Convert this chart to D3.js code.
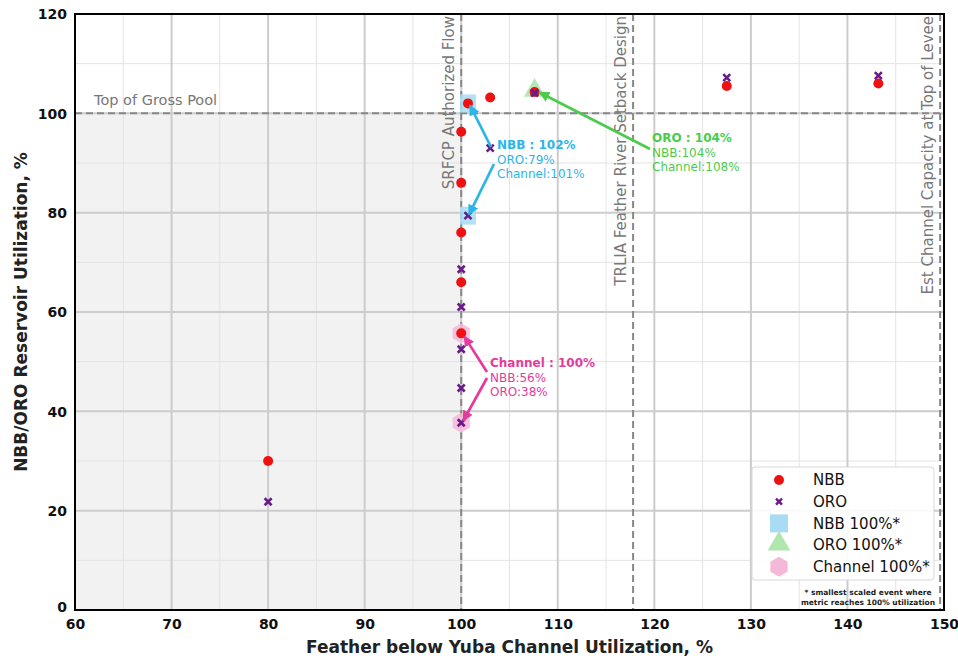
<!DOCTYPE html>
<html><head><meta charset="utf-8">
<script src="https://cdn.jsdelivr.net/npm/d3@7"></script>
<style>body{margin:0;background:#fff;} svg{display:block;font-family:"DejaVu Sans",sans-serif;}</style>
</head><body>
<svg id="c" width="958" height="660"></svg>
<script>
// ---- data ----
const nbbX = [80, 100, 100, 100, 100, 100, 100.7, 103, 107.6, 127.5, 143.2];
const nbbY = [30, 55.7, 66, 76, 86, 96.3, 102, 103.2, 104.3, 105.5, 106.0];
const oroX = [80, 100, 100, 100, 100, 100, 100.7, 103, 107.6, 127.5, 143.2];
const oroY = [21.8, 37.7, 44.7, 52.5, 61, 68.6, 79.4, 93, 104.1, 107.2, 107.6];
const nbbHiX = [100.7, 100.7];
const nbbHiY = [102, 79.4];
const oroHiX = [107.6];
const oroHiY = [104.2];
const chanHiX = [100, 100];
const chanHiY = [55.7, 37.7];
const xTicks = [60, 70, 80, 90, 100, 110, 120, 130, 140, 150];
const yTicks = [0, 20, 40, 60, 80, 100, 120];
const vLineX = [100, 117.8, 149.6];
const vLineLabels = ["SRFCP Authorized Flow", "TRLIA Feather River Setback Design", "Est Channel Capacity at Top of Levee"];
const hLineY = 100;
const hLineLabel = "Top of Gross Pool";
const legendLabels = ["NBB", "ORO", "NBB 100%*", "ORO 100%*", "Channel 100%*"];
const noteLines = ["* smallest scaled event where", "metric reaches 100% utilization"];
const annNBB = ["NBB : 102%", "ORO:79%", "Channel:101%"];
const annORO = ["ORO : 104%", "NBB:104%", "Channel:108%"];
const annChan = ["Channel : 100%", "NBB:56%", "ORO:38%"];

// ---- layout ----
const svg = d3.select("#c");
const L = 75, R = 944, T = 14, B = 610;
const x = d3.scaleLinear().domain([60, 150]).range([L, R]);
const y = d3.scaleLinear().domain([0, 120]).range([B, T]);

const defs = svg.append("defs");
defs.append("clipPath").attr("id", "clip").append("rect")
  .attr("x", L).attr("y", T).attr("width", R - L).attr("height", B - T);

// shaded region
svg.append("rect").attr("x", x(60)).attr("y", y(100))
  .attr("width", x(100) - x(60)).attr("height", y(0) - y(100)).attr("fill", "#f2f2f2");

// grid
const g = svg.append("g").attr("clip-path", "url(#clip)");
d3.range(65, 150, 10).forEach(v => g.append("line").attr("x1", x(v)).attr("x2", x(v)).attr("y1", T).attr("y2", B).attr("stroke", "#e3e3e3").attr("stroke-width", 1));
d3.range(10, 120, 20).forEach(v => g.append("line").attr("y1", y(v)).attr("y2", y(v)).attr("x1", L).attr("x2", R).attr("stroke", "#e3e3e3").attr("stroke-width", 1));
xTicks.slice(1, -1).forEach(v => g.append("line").attr("x1", x(v)).attr("x2", x(v)).attr("y1", T).attr("y2", B).attr("stroke", "#cccccc").attr("stroke-width", 2));
yTicks.slice(1, -1).forEach(v => g.append("line").attr("y1", y(v)).attr("y2", y(v)).attr("x1", L).attr("x2", R).attr("stroke", "#cccccc").attr("stroke-width", 2));

// reference lines
g.append("line").attr("x1", L).attr("x2", R).attr("y1", y(hLineY)).attr("y2", y(hLineY))
  .attr("stroke", "#888").attr("stroke-width", 2).attr("stroke-dasharray", "7,4");
vLineX.forEach(v => g.append("line").attr("x1", x(v)).attr("x2", x(v)).attr("y1", T).attr("y2", B)
  .attr("stroke", "#888").attr("stroke-width", 2).attr("stroke-dasharray", "7,4"));
svg.append("text").attr("x", x(60) + 19).attr("y", y(hLineY) - 8).attr("fill", "#777")
  .attr("font-size", 14.5).text(hLineLabel);
vLineX.forEach((v, i) => svg.append("text")
  .attr("transform", `translate(${x(v) - 7},${T + 2}) rotate(-90)`)
  .attr("text-anchor", "end").attr("fill", "#777").attr("font-size", 15).text(vLineLabels[i]));

// axes
const xAxis = d3.axisBottom(x).tickValues(xTicks).tickSize(0).tickPadding(6);
const yAxis = d3.axisLeft(y).tickValues(yTicks).tickSize(0).tickPadding(8);
const gx = svg.append("g").attr("transform", `translate(0,${B})`).call(xAxis);
const gy = svg.append("g").attr("transform", `translate(${L},0)`).call(yAxis);
[gx, gy].forEach(a => {
  a.select(".domain").remove();
  a.selectAll("text").attr("font-size", 14).attr("font-weight", "bold").attr("fill", "#111")
    .attr("font-family", "DejaVu Sans, sans-serif");
});
gx.selectAll("text").attr("dy", "0.9em");
gy.selectAll("text").attr("dy", d => d === 0 ? "0.1em" : "0.35em");

svg.append("text").attr("x", (L + R) / 2).attr("y", 653).attr("text-anchor", "middle")
  .attr("font-size", 17).attr("font-weight", "bold").attr("fill", "#222")
  .text("Feather below Yuba Channel Utilization, %");
svg.append("text").attr("transform", `translate(27,${(T + B) / 2}) rotate(-90)`).attr("text-anchor", "middle")
  .attr("font-size", 17).attr("font-weight", "bold").attr("fill", "#222")
  .text("NBB/ORO Reservoir Utilization, %");

// highlight markers
const sym = (type, size) => d3.symbol().type(type).size(size)();
const hexPath = r => d3.line()(d3.range(6).map(i => [r * Math.cos(Math.PI / 6 + i * Math.PI / 3), r * Math.sin(Math.PI / 6 + i * Math.PI / 3)])) + "Z";
const pm = svg.append("g");
nbbHiX.forEach((v, i) => pm.append("rect").attr("x", x(v) - 8).attr("y", y(nbbHiY[i]) - 9)
  .attr("width", 16).attr("height", 18).attr("fill", "#a8dcf4").attr("opacity", 0.85));
oroHiX.forEach((v, i) => pm.append("path").attr("transform", `translate(${x(v)},${y(oroHiY[i]) - 2})`)
  .attr("d", sym(d3.symbolTriangle, 200)).attr("fill", "#aee6ae").attr("opacity", 0.9));
chanHiX.forEach((v, i) => pm.append("path").attr("transform", `translate(${x(v)},${y(chanHiY[i])})`)
  .attr("d", hexPath(10)).attr("fill", "#f6b8d8").attr("opacity", 0.85));

// points
const xMark = s => `M${-s},${-s}L${s},${s}M${-s},${s}L${s},${-s}`;
nbbX.forEach((v, i) => svg.append("circle").attr("cx", x(v)).attr("cy", y(nbbY[i])).attr("r", 5).attr("fill", "#ee1111"));
oroX.forEach((v, i) => svg.append("path").attr("transform", `translate(${x(v)},${y(oroY[i])})`)
  .attr("d", xMark(3.5)).attr("stroke", "#6a1b8a").attr("stroke-width", 2.6).attr("fill", "none"));

// arrows
function arrowMarker(id, color) {
  defs.append("marker").attr("id", id).attr("viewBox", "0 0 10 10").attr("refX", 9).attr("refY", 5)
    .attr("markerWidth", 4).attr("markerHeight", 4).attr("orient", "auto")
    .append("path").attr("d", "M0,0L10,5L0,10Z").attr("fill", color);
}
const cBlue = "#2bb5e8", cGreen = "#4ccc4c", cPink = "#e23c9c";
arrowMarker("aB", cBlue); arrowMarker("aG", cGreen); arrowMarker("aP", cPink);
function arrow(x1, y1, x2, y2, color, id) {
  svg.append("line").attr("x1", x1).attr("y1", y1).attr("x2", x2).attr("y2", y2)
    .attr("stroke", color).attr("stroke-width", 2.7).attr("marker-end", `url(#${id})`);
}
function annText(px, py, lines, color) {
  const t = svg.append("text").attr("x", px).attr("y", py).attr("fill", color).attr("font-size", 12);
  lines.forEach((l, i) => t.append("tspan").attr("x", px).attr("dy", i === 0 ? 0 : 14.5)
    .attr("font-weight", i === 0 ? "bold" : "normal").text(l));
}
// NBB annotation
arrow(491, 147, x(nbbHiX[0]) + 2, y(nbbHiY[0]) + 2, cBlue, "aB");
arrow(494, 164, x(nbbHiX[1]) + 1, y(nbbHiY[1]) - 1, cBlue, "aB");
annText(497, 149, annNBB, cBlue);
// ORO annotation
arrow(650, 149, x(oroHiX[0]) + 5, y(oroHiY[0]), cGreen, "aG");
annText(652, 142, annORO, cGreen);
// Channel annotation
arrow(487, 372, x(chanHiX[0]) + 3, y(chanHiY[0]) + 3, cPink, "aP");
arrow(487, 378, x(chanHiX[1]) + 2, y(chanHiY[1]) - 2, cPink, "aP");
annText(490, 367, annChan, cPink);

// legend
const lg = svg.append("g");
lg.append("rect").attr("x", 752).attr("y", 467).attr("width", 182).attr("height", 113).attr("rx", 3)
  .attr("fill", "#fff").attr("fill-opacity", 0.9).attr("stroke", "#d8d8d8");
const ly = i => 480 + i * 21.7;
const lx = 779;
lg.append("circle").attr("cx", lx).attr("cy", ly(0)).attr("r", 5).attr("fill", "#ee1111");
lg.append("path").attr("transform", `translate(${lx},${ly(1)})`).attr("d", xMark(3)).attr("stroke", "#6a1b8a").attr("stroke-width", 2.4);
lg.append("rect").attr("x", lx - 9).attr("y", ly(2) - 9).attr("width", 18).attr("height", 18).attr("fill", "#a8dcf4");
lg.append("path").attr("transform", `translate(${lx},${ly(3) - 1})`).attr("d", sym(d3.symbolTriangle, 220)).attr("fill", "#aee6ae");
lg.append("path").attr("transform", `translate(${lx},${ly(4)})`).attr("d", hexPath(10)).attr("fill", "#f6b8d8");
legendLabels.forEach((l, i) => lg.append("text").attr("x", 813).attr("y", ly(i)).attr("dy", "0.35em")
  .attr("font-size", 15).attr("fill", "#111").text(l));
noteLines.forEach((l, i) => svg.append("text").attr("x", 868).attr("y", 595 + i * 10).attr("text-anchor", "middle")
  .attr("font-size", 7.5).attr("font-weight", "bold").attr("fill", "#222").text(l));

// frame
svg.append("rect").attr("x", L).attr("y", T).attr("width", R - L).attr("height", B - T)
  .attr("fill", "none").attr("stroke", "#000").attr("stroke-width", 2);
</script>
</body></html>
